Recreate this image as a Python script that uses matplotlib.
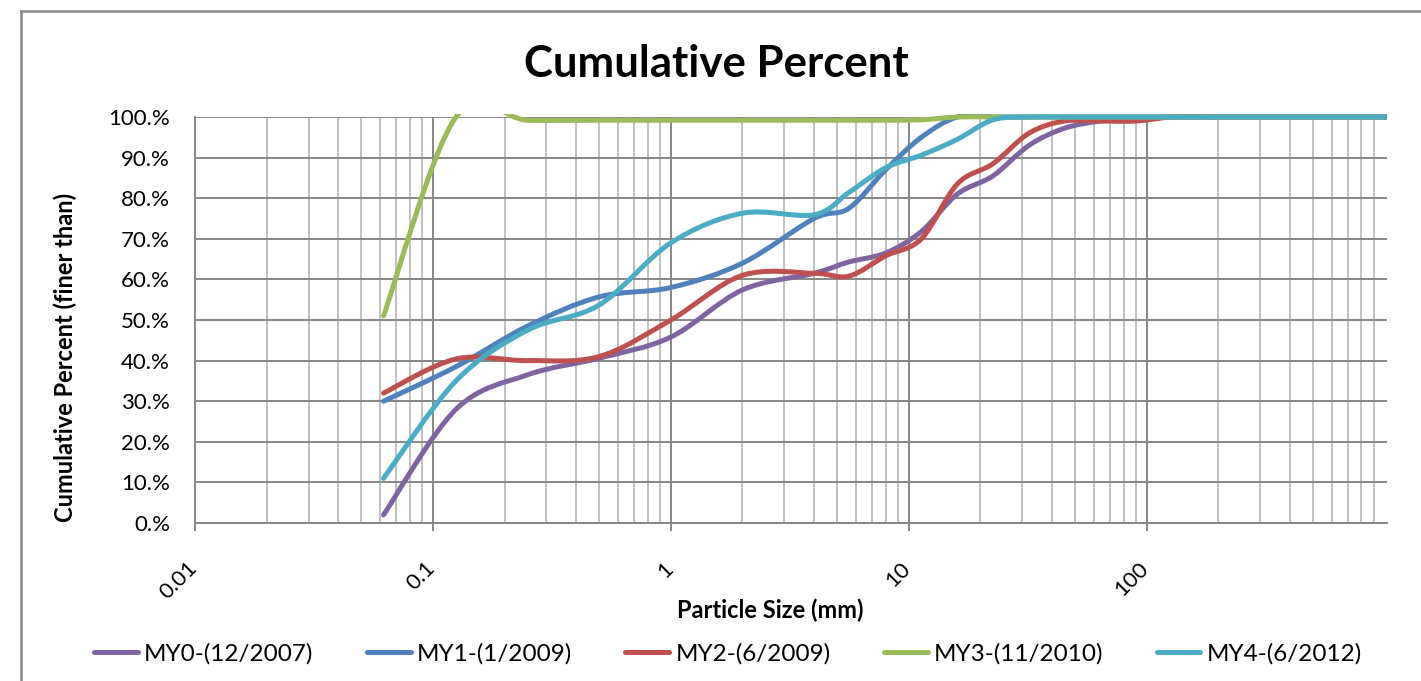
import numpy as np
import matplotlib
matplotlib.use('Agg')
import matplotlib.pyplot as plt
from matplotlib.path import Path
from matplotlib.patches import PathPatch, Rectangle
from matplotlib.lines import Line2D
from matplotlib.ticker import FixedLocator, NullFormatter, FuncFormatter
import matplotlib.transforms as mtransforms

# ---- data (particle size in mm, cumulative percent finer than) ----
sizes_mm = [0.062, 0.125, 0.25, 0.5, 1, 2, 4, 5.6, 8, 11.3, 16, 22.6, 32, 45,
            64, 90, 128, 180, 256, 362, 512, 1024]
my0 = [2, 28, 36.5, 40.6, 45.8, 57.4, 61.5, 64.3, 66.5, 71.8, 81, 85.5, 93,
       97.2, 99, 99.5, 100, 100, 100, 100, 100, 100]
my1 = [30, 38.5, 48.5, 55.7, 58, 64, 75, 77.5, 87, 95, 100, 100, 100, 100,
       100, 100, 100, 100, 100, 100, 100, 100]
my2 = [32, 40.4, 40, 41, 50, 61, 61.5, 60.8, 65.8, 70, 83.5, 88.5, 96, 99,
       99, 99, 100, 100, 100, 100, 100, 100]
my3 = [51, 100, 99.2, 99.2, 99.2, 99.2, 99.2, 99.2, 99.2, 99.3, 100, 100, 100,
       100, 100, 100, 100, 100, 100, 100, 100, 100]
my4 = [11, 35, 47.5, 53.7, 69, 76.3, 75.9, 81.4, 87.5, 90.6, 94.5, 99.3, 100,
       100, 100, 100, 100, 100, 100, 100, 100, 100]

series_values = [my0, my1, my2, my3, my4]
series_labels = ["MY0-(12/2007)", "MY1-(1/2009)", "MY2-(6/2009)",
                 "MY3-(11/2010)", "MY4-(6/2012)"]
series_colors = ["#8064A2", "#4F81BD", "#C0504D", "#9BBB59", "#4BACC6"]
x_major = [0.01, 0.1, 1, 10, 100]
x_major_labels = ["0.01", "0.1", "1", "10", "100"]
y_ticks = [0, 10, 20, 30, 40, 50, 60, 70, 80, 90, 100]

FONT = "Lato"
W, H = 1421, 681


def smooth_path(xs, ys):
    """Excel-style smoothed line: cubic Bezier segments (Catmull-Rom control
    points) computed in log-x / linear-y space; drawn by matplotlib."""
    lx = np.log10(np.asarray(xs, float))
    y = np.asarray(ys, float)
    n = len(lx)
    verts = [(xs[0], y[0])]
    codes = [Path.MOVETO]
    for i in range(n - 1):
        im = max(i - 1, 0)
        ip2 = min(i + 2, n - 1)
        c1x = lx[i] + (lx[i + 1] - lx[im]) / 6.0
        c1y = y[i] + (y[i + 1] - y[im]) / 6.0
        c2x = lx[i + 1] - (lx[ip2] - lx[i]) / 6.0
        c2y = y[i + 1] - (y[ip2] - y[i]) / 6.0
        verts += [(10 ** c1x, c1y), (10 ** c2x, c2y), (xs[i + 1], y[i + 1])]
        codes += [Path.CURVE4] * 3
    return Path(verts, codes)


fig = plt.figure(figsize=(W / 100, H / 100), dpi=100)
ax = fig.add_axes([195 / W, 1 - 523 / H, (1387 - 195) / W, (523 - 117) / H])
ax.set_xscale('log')
ax.set_xlim(0.01, 1024)
ax.set_ylim(0, 100)

# grid
ax.xaxis.set_major_locator(FixedLocator(x_major))
minors = [m * d for d in [0.01, 0.1, 1, 10, 100] for m in range(2, 10)]
ax.xaxis.set_minor_locator(FixedLocator(minors))
ax.xaxis.set_minor_formatter(NullFormatter())
ax.set_xticklabels(x_major_labels)
ax.yaxis.set_major_locator(FixedLocator(y_ticks))
ax.yaxis.set_major_formatter(FuncFormatter(lambda v, p: f"{v:.0f}.%"))
ax.set_axisbelow(True)
ax.grid(which='major', axis='both', color='#878787', lw=1.4)
ax.grid(which='minor', axis='x', color='#c0c0c0', lw=1.4)

for s in ['top', 'right']:
    ax.spines[s].set_visible(False)
for s in ['left', 'bottom']:
    ax.spines[s].set_color('#878787')
    ax.spines[s].set_linewidth(1.4)

ax.tick_params(axis='x', which='major', length=6, width=1.4, color='#878787',
               labelsize=16, pad=2)
ax.tick_params(axis='x', which='minor', length=0)
ax.tick_params(axis='y', which='major', length=0, labelsize=16, pad=18)
for lab in ax.get_xticklabels():
    lab.set_rotation(45)
    lab.set_ha('right')
    lab.set_va('top')
    lab.set_fontfamily(FONT)
    lab.set_transform(lab.get_transform() + mtransforms.ScaledTranslation(
        0.06, -0.24, fig.dpi_scale_trans))
for lab in ax.get_yticklabels():
    lab.set_fontfamily(FONT)

clip_rect = Rectangle((0, -0.02), 1, 1.028, transform=ax.transAxes,
                      facecolor='none', edgecolor='none')
handles = []
for vals, lab, col in zip(series_values, series_labels, series_colors):
    patch = PathPatch(smooth_path(sizes_mm, vals), fill=False, edgecolor=col,
                      lw=3.6, capstyle='round', joinstyle='round', zorder=3)
    ax.add_patch(patch)
    patch.set_clip_path(clip_rect)
    handles.append(Line2D([], [], color=col, lw=3.6, solid_capstyle='round'))

# texts
fig.text(716 / W, 1 - 64 / H, "Cumulative Percent", ha='center', va='center',
         fontsize=31.5, fontweight='bold', family=FONT)
fig.text(770 / W, 1 - 610 / H, "Particle Size (mm)", ha='center', va='center',
         fontsize=17, fontweight='bold', family=FONT)
fig.text(65 / W, 1 - 357 / H, "Cumulative Percent (finer than)", ha='center',
         va='center', rotation=90, fontsize=17, fontweight='bold', family=FONT)

fig.legend(handles, series_labels, loc='center', bbox_to_anchor=(728 / W, 1 - 654 / H),
           ncol=5, frameon=False, prop={'family': FONT, 'size': 17.5},
           handlelength=1.8, handletextpad=0.25, columnspacing=2.2)

# chart border
fig.add_artist(Line2D([21 / W, 21 / W], [0, 1 - 11 / H], color='#878787', lw=1.8,
                      transform=fig.transFigure))
fig.add_artist(Line2D([21 / W, 1], [1 - 11 / H, 1 - 11 / H], color='#878787', lw=1.8,
                      transform=fig.transFigure))

fig.savefig("out.png", dpi=100)
